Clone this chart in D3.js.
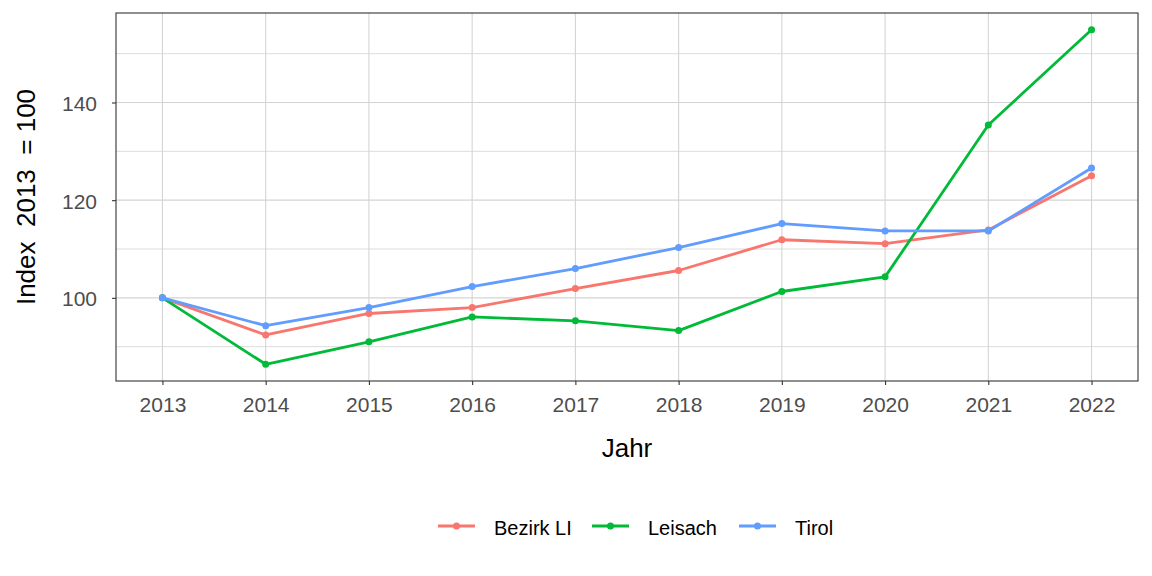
<!DOCTYPE html>
<html><head><meta charset="utf-8">
<script src="https://cdn.jsdelivr.net/npm/d3@7"></script>
<style>body{margin:0;background:#fff;} text{font-family:"Liberation Sans",Arial,sans-serif;}</style>
</head><body><svg id="c" width="1152" height="576"></svg>
<script>
const years = [2013,2014,2015,2016,2017,2018,2019,2020,2021,2022];
const bezirkLI = [100,92.4,96.8,98.0,101.9,105.6,111.9,111.1,113.9,125.0];
const leisach  = [100,86.4,91.0,96.1,95.3,93.3,101.3,104.3,135.4,154.9];
const tirol    = [100,94.3,98.0,102.3,106.0,110.3,115.2,113.7,113.7,126.6];
const seriesNames = ["Bezirk LI","Leisach","Tirol"];
const seriesColors = ["#F8766D","#00BA38","#619CFF"];
const yTicks = [100,120,140];
const yMinor = [90,110,130,150];

const svg = d3.select("#c");
const L=116,R=1138,T=13,B=381;
const allV = bezirkLI.concat(leisach,tirol);
const vmin=d3.min(allV), vmax=d3.max(allV), pad=(vmax-vmin)*0.05;
const x = d3.scaleLinear().domain([2013-0.45,2022+0.45]).range([L,R]);
const y = d3.scaleLinear().domain([vmin-pad,vmax+pad]).range([B,T]);

const g = svg.append("g");
// grid
g.selectAll(".ymin").data(yMinor.filter(v=>v>y.domain()[0]&&v<y.domain()[1])).join("line")
 .attr("x1",L).attr("x2",R).attr("y1",d=>y(d)).attr("y2",d=>y(d)).attr("stroke","#dcdcdc").attr("stroke-width",1);
g.selectAll(".ymaj").data(yTicks).join("line")
 .attr("x1",L).attr("x2",R).attr("y1",d=>y(d)).attr("y2",d=>y(d)).attr("stroke","#d4d4d4").attr("stroke-width",1.1);
g.selectAll(".xmaj").data(years).join("line")
 .attr("y1",T).attr("y2",B).attr("x1",d=>x(d)).attr("x2",d=>x(d)).attr("stroke","#d4d4d4").attr("stroke-width",1.1);

// axes
const xAxis = d3.axisBottom(x).tickValues(years).tickFormat(d3.format("d")).tickSize(4).tickPadding(5);
const ax = svg.append("g").attr("transform",`translate(0,${B})`).call(xAxis);
ax.select(".domain").remove();
ax.selectAll("line").attr("stroke","#333").attr("stroke-width",1.1);
ax.selectAll("text").attr("fill","#4d4d4d").style("font-size","21px").attr("y",31).attr("dy",null);
const yAxis = d3.axisLeft(y).tickValues(yTicks).tickSize(4).tickPadding(6);
const ay = svg.append("g").attr("transform",`translate(${L},0)`).call(yAxis);
ay.select(".domain").remove();
ay.selectAll("line").attr("stroke","#333").attr("stroke-width",1.1);
ay.selectAll("text").attr("fill","#4d4d4d").style("font-size","21px").attr("dy","0.38em").attr("x",-19);

// lines
const data = [bezirkLI,leisach,tirol];
const line = d3.line().x((d,i)=>x(years[i])).y(d=>y(d));
data.forEach((s,k)=>{
  svg.append("path").datum(s).attr("d",line).attr("fill","none")
   .attr("stroke",seriesColors[k]).attr("stroke-width",2.8).attr("stroke-linejoin","round");
  svg.selectAll(null).data(s).join("circle").attr("cx",(d,i)=>x(years[i])).attr("cy",d=>y(d))
   .attr("r",3.5).attr("fill",seriesColors[k]);
});

// border
svg.append("rect").attr("x",L).attr("y",T).attr("width",R-L).attr("height",B-T)
 .attr("fill","none").attr("stroke","#333").attr("stroke-width",1.1);

// titles
svg.append("text").attr("x",(L+R)/2).attr("y",457).attr("text-anchor","middle")
 .style("font-size","26px").attr("fill","#000").text("Jahr");
svg.append("text").attr("transform",`translate(35,${(T+B)/2}) rotate(-90)`).attr("text-anchor","middle")
 .style("font-size","26px").attr("fill","#000").style("white-space","pre").text("Index  2013  = 100");

// legend
const legX=[438,592,739];
seriesNames.forEach((n,k)=>{
  const lg = svg.append("g").attr("transform",`translate(${legX[k]},526)`);
  lg.append("line").attr("x1",0).attr("x2",37).attr("stroke",seriesColors[k]).attr("stroke-width",2.8);
  lg.append("circle").attr("cx",18.5).attr("r",3.5).attr("fill",seriesColors[k]);
  lg.append("text").attr("x",56).attr("y",9).style("font-size","20px").attr("fill","#000").text(n);
});
</script></body></html>
